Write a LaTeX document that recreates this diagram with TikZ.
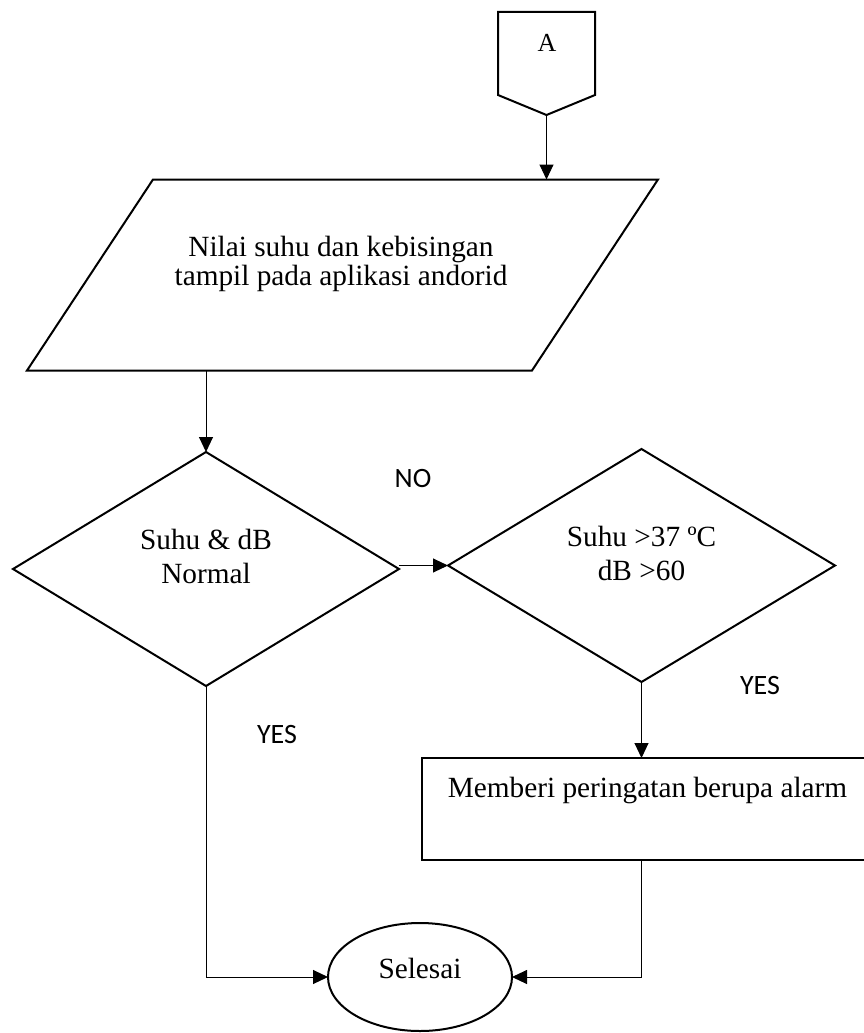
\documentclass[tikz,border=0pt]{standalone}
\usepackage{fontspec}
\setmainfont{Liberation Serif}
\newfontfamily\lblfont{Carlito}
\usetikzlibrary{shapes.geometric,arrows.meta,calc}

\begin{document}
\begin{tikzpicture}[x=1pt,y=-1pt,
  shapeline/.style={draw=black, line width=2pt, line join=miter},
  box/.style={inner sep=0pt, outer sep=0pt},
  txt/.style={font=\fontsize{29.3}{29}\selectfont, align=center, inner sep=0pt, anchor=base},
  txtwide/.style={txt, font=\fontsize{29.3}{34}\selectfont},
  branch/.style={font=\lblfont\fontsize{28}{30}\selectfont, inner sep=0pt},
  flow/.style={line width=1pt, -{Triangle[length=15pt,width=14pt]}}
]
\useasboundingbox (0,0) rectangle (864,1033);
\clip (0,0) rectangle (864,1033);

% off-page connector
\node[box, minimum width=97pt, minimum height=83pt] (A) at (546.5,53.5) {};
\coordinate (Atip) at ($(A.south)+(0,20)$);
\draw[shapeline] (A.south west) -- (A.north west) -- (A.north east) -- (A.south east) -- (Atip) -- cycle;
\node[font=\fontsize{26}{26}\selectfont, inner sep=0pt, anchor=base] (Atext) at (547,52) {A};

% input / output parallelogram (text nodes are placed by the baseline of their last line)
\node[box, minimum width=505pt, minimum height=191pt] (in) at (342.5,275) {};
\draw[shapeline] ($(in.north west)+(63,0)$) -- ($(in.north east)+(63,0)$)
  -- ($(in.south east)+(-63,0)$) -- ($(in.south west)+(-63,0)$) -- cycle;
\node[txt] (intext) at (341,285) {Nilai suhu dan kebisingan\\tampil pada aplikasi andorid};

% decisions
\node[shapeline, diamond, box, minimum width=386pt, minimum height=234pt] (d1) at (206,569) {};
\node[txtwide] (d1text) at (206,583) {Suhu \& dB\\Normal};
\node[shapeline, diamond, box, minimum width=387pt, minimum height=233pt] (d2) at (641.5,565.5) {};
\node[txtwide] (d2text) at (641.5,580) {Suhu >37 ºC\\dB >60};

% alarm process
\node[shapeline, rectangle, box, minimum width=451pt, minimum height=102pt] (alarm) at (647.5,809) {};
\node[txt] (alarmtext) at (647.5,797) {Memberi peringatan berupa alarm};

% terminator
\node[shapeline, ellipse, box, minimum width=184pt, minimum height=108pt] (end) at (420,977) {};
\node[txt] (endtext) at (420,978) {Selesai};

% branch labels
\node[branch] (no) at (413,479) {NO};
\node[branch] (yes1) at (277,735) {YES};
\node[branch] (yes2) at (760,686) {YES};

% connectors
\draw[flow] (Atip) -- (Atip |- in.north);
\draw[flow] (in.south -| d1.north) -- (d1.north);
\draw[flow] (d1.east |- d2.west) -- (d2.west);
\draw[flow] (d2.south) -- (d2.south |- alarm.north);
\draw[flow] (alarm.south -| d2.south) |- (end.east);
\draw[flow] (d1.south) |- (end.west);
\end{tikzpicture}
\end{document}
